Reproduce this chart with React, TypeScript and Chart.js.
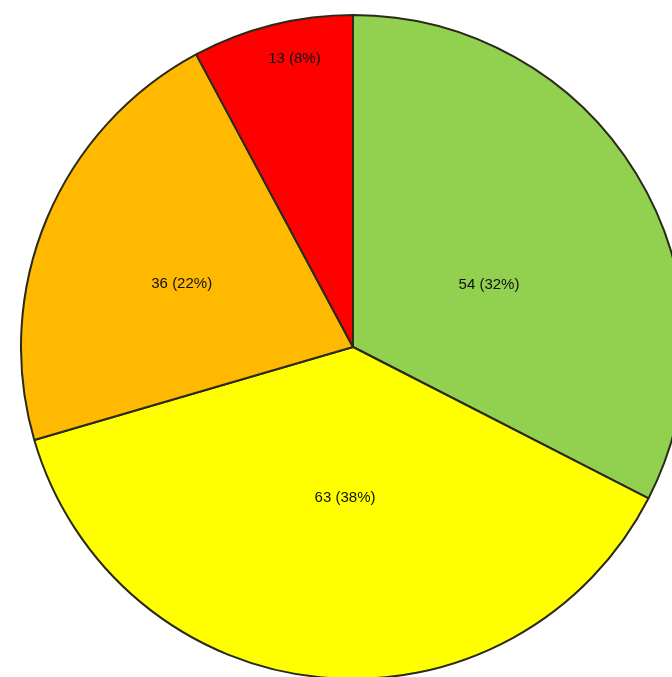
import React, { useEffect, useRef } from "react";
import { Chart, registerables } from "chart.js";

Chart.register(...registerables);

const categories = ["Green", "Yellow", "Orange", "Red"];
const values = [54, 63, 36, 13];
const percentLabels = ["32%", "38%", "22%", "8%"];
const sliceColors = ["#92D050", "#FFFF00", "#FFB900", "#FF0000"];
// label placement: fraction of radius and angle offset (degrees) from slice middle
const labelRadiusFrac = [0.45, 0.455, 0.55, 0.885];
const labelAngleOffset = [7, -2.4, -2.5, 2.6];

const labelPlugin = {
  id: "sliceLabels",
  afterDatasetsDraw(chart: any) {
    const ctx = chart.ctx;
    const meta = chart.getDatasetMeta(0);
    ctx.save();
    ctx.font = "15px 'Liberation Sans', Arial, sans-serif";
    ctx.fillStyle = "#111111";
    ctx.textAlign = "center";
    ctx.textBaseline = "middle";
    meta.data.forEach((arc: any, i: number) => {
      const p = arc.getProps(["x", "y", "startAngle", "endAngle", "outerRadius"], true);
      const mid = (p.startAngle + p.endAngle) / 2 + (labelAngleOffset[i] * Math.PI) / 180;
      const r = p.outerRadius * labelRadiusFrac[i];
      const x = p.x + Math.cos(mid) * r;
      const y = p.y + Math.sin(mid) * r;
      ctx.fillText(`${values[i]} (${percentLabels[i]})`, x, y);
    });
    ctx.restore();
  },
};

export default function App() {
  const ref = useRef<HTMLCanvasElement | null>(null);
  useEffect(() => {
    if (!ref.current) return;
    const chart = new Chart(ref.current, {
      type: "pie",
      data: {
        labels: categories,
        datasets: [
          {
            data: values,
            backgroundColor: sliceColors,
            borderColor: "#2a2a1a",
            borderWidth: 2,
          },
        ],
      },
      options: {
        responsive: false,
        animation: false,
        layout: { padding: 0 },
        plugins: {
          legend: { display: false },
          tooltip: { enabled: false },
        },
      },
      plugins: [labelPlugin],
    });
    return () => chart.destroy();
  }, []);
  return (
    <div style={{ position: "fixed", left: 0, top: 0, width: "100vw", height: "100vh", overflow: "hidden", background: "#fff" }}>
      <canvas
        ref={ref}
        width={666}
        height={666}
        style={{ position: "absolute", left: 20, top: 14, width: 666, height: 666 }}
      />
    </div>
  );
}
